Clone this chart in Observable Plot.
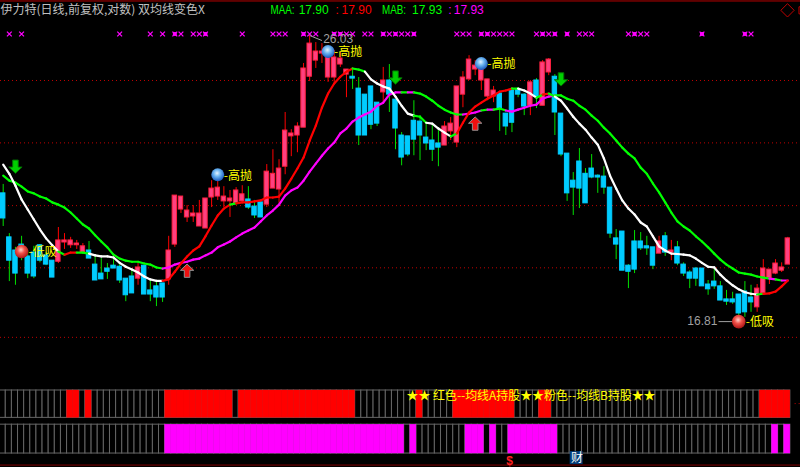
<!DOCTYPE html>
<html><head><meta charset="utf-8">
<script src="https://cdn.jsdelivr.net/npm/d3@7"></script>
<script src="https://cdn.jsdelivr.net/npm/@observablehq/plot@0.6"></script>
<style>html,body{margin:0;padding:0;background:#000;overflow:hidden}svg{display:block}</style>
</head><body><div id="c"></div>
<script>
const opens = [20.45,19.12,18.74,18.91,18.57,18.68,18.89,18.60,18.45,18.42,
18.97,18.89,18.89,18.68,18.74,18.34,18.09,18.23,18.31,18.28,
17.95,18.01,17.95,18.31,17.63,17.74,17.82,17.93,18.91,19.95,
19.71,19.74,19.44,19.38,20.32,20.35,20.20,20.20,20.14,20.20,
20.26,20.04,20.17,20.10,20.60,20.57,21.30,22.31,22.34,22.61,
24.44,25.05,25.32,24.41,24.41,24.90,24.52,24.44,24.00,23.78,
24.08,23.49,23.86,24.30,23.60,22.34,22.31,22.85,22.82,22.27,
22.17,22.07,22.00,22.48,22.10,23.78,24.34,24.71,24.30,23.71,
23.71,23.82,23.10,23.93,23.97,23.78,23.38,24.30,23.38,24.60,
24.44,23.10,21.73,20.85,21.47,21.07,21.24,21.01,20.98,20.63,
19.09,19.29,18.31,19.00,19.00,18.86,18.83,18.65,19.15,18.68,
18.83,18.34,18.12,18.23,18.23,17.79,17.87,17.74,17.39,17.39,
17.52,17.60,17.44,17.18,17.55,17.95,18.09,18.17,18.34];
const closes = [19.68,18.45,18.09,18.65,18.09,18.01,18.45,18.34,17.98,19.03,
19.03,19.03,18.94,18.86,18.51,17.90,17.93,18.14,18.23,17.90,
17.50,17.55,18.26,17.52,17.52,17.44,17.44,18.74,20.38,20.35,
19.92,19.83,19.83,20.29,20.60,20.63,20.35,20.29,20.54,20.42,
20.01,19.77,19.71,21.14,21.07,21.24,22.51,22.41,22.65,24.75,
25.71,25.40,25.40,25.32,25.17,25.13,24.71,24.37,22.34,22.34,
22.71,22.75,24.30,23.78,22.58,21.60,21.70,22.20,22.34,22.07,
21.86,21.93,22.65,22.75,24.08,24.41,25.09,24.86,24.75,24.34,
23.93,23.28,22.65,22.78,23.78,23.35,24.23,23.71,24.98,25.09,
23.14,21.70,20.45,20.63,20.60,20.14,20.95,20.95,20.63,19.23,
18.91,18.17,18.14,18.20,18.80,18.80,18.31,19.00,18.68,18.74,
18.37,18.09,17.95,17.95,17.74,17.66,17.74,17.36,17.33,17.31,
17.02,17.05,17.31,17.68,18.23,18.20,18.37,18.26,19.09];
const highs = [20.73,19.23,18.83,19.15,18.74,18.86,18.91,18.68,18.45,19.41,
19.23,19.12,19.03,18.94,19.00,18.60,18.51,18.37,18.54,18.39,
17.95,18.17,18.37,18.31,17.90,17.85,17.82,19.15,20.38,20.35,
20.07,20.07,20.23,20.29,20.85,20.85,20.66,20.54,20.63,20.69,
20.66,20.23,20.23,21.37,21.86,21.53,23.14,22.54,22.78,24.94,
26.03,25.75,25.71,25.44,25.44,25.36,24.71,24.75,24.41,23.78,
24.08,23.49,24.79,24.90,23.60,22.44,22.31,23.56,23.03,22.75,
22.75,22.51,22.82,22.96,24.08,24.63,25.24,25.05,25.05,24.34,
24.08,23.86,23.10,24.04,24.04,23.82,24.30,24.37,25.05,25.13,
24.52,23.10,21.73,21.11,21.90,21.24,21.70,21.04,21.30,20.63,
19.35,19.29,18.34,19.32,19.26,19.15,18.83,19.15,19.26,19.03,
19.00,18.39,18.17,18.26,18.23,17.90,18.23,17.87,17.63,17.58,
17.52,17.87,17.77,17.79,18.48,18.20,18.48,18.39,19.12];
const lows = [19.44,17.87,17.77,18.45,17.95,17.95,18.39,18.31,17.98,18.37,
18.77,18.80,18.77,18.65,18.51,17.90,17.93,17.93,18.23,17.82,
17.33,17.55,17.77,17.52,17.33,17.20,17.31,17.77,18.83,19.83,
19.56,19.56,19.44,19.38,20.01,20.23,20.01,19.71,20.14,20.14,
19.95,19.68,19.71,20.01,20.60,20.14,21.04,21.63,21.76,22.61,
24.26,24.75,24.94,24.23,24.23,24.79,23.67,23.97,22.00,22.34,
22.54,22.65,23.49,23.14,21.86,21.33,21.63,21.66,21.50,21.83,
21.47,21.30,22.00,22.17,21.93,23.31,24.30,24.48,23.93,23.56,
23.49,22.48,22.34,22.44,23.67,23.03,23.03,23.28,23.38,24.48,
22.34,21.63,20.20,19.77,19.98,20.14,20.91,20.45,20.42,19.09,
18.48,18.17,17.68,18.09,18.74,18.60,18.20,18.65,18.57,18.45,
18.31,18.01,17.68,17.74,17.74,17.50,17.66,17.36,17.23,17.26,
16.81,16.92,17.05,17.05,17.52,17.79,18.06,18.12,18.34];
const maFast = [21.37,21.07,20.69,20.26,19.95,19.65,19.35,19.09,18.89,18.71,
18.62,18.68,18.68,18.68,18.65,18.60,18.57,18.57,18.54,18.39,
18.28,18.20,18.12,18.01,17.93,17.89,17.89,17.93,18.14,18.37,
18.57,18.74,18.86,19.15,19.47,19.77,19.98,20.10,20.14,20.17,
20.17,20.20,20.23,20.32,20.32,20.35,20.60,20.91,21.24,21.60,
22.17,22.68,23.31,23.82,24.19,24.44,24.63,24.75,24.71,24.63,
24.34,24.19,24.08,24.00,23.71,23.38,23.10,23.03,22.99,22.78,
22.75,22.58,22.44,22.31,22.41,22.78,23.14,23.35,23.49,23.63,
23.75,23.89,23.93,24.00,24.00,23.93,23.82,23.67,23.78,23.82,
23.71,23.56,23.28,22.99,22.75,22.54,22.27,22.03,21.57,21.01,
20.60,20.23,19.98,19.80,19.56,19.44,19.15,18.86,18.74,18.65,
18.64,18.62,18.60,18.51,18.39,18.28,18.26,18.06,17.90,17.77,
17.66,17.58,17.54,17.52,17.54,17.55,17.60,17.74,17.90];
const maSlow = [21.01,20.85,20.79,20.66,20.51,20.45,20.35,20.29,20.17,20.10,
20.01,19.86,19.68,19.50,19.38,19.18,19.00,18.83,18.62,18.51,
18.45,18.42,18.42,18.37,18.34,18.26,18.23,18.26,18.34,18.39,
18.42,18.48,18.51,18.60,18.68,18.83,18.91,19.00,19.12,19.23,
19.32,19.41,19.59,19.77,19.92,20.10,20.38,20.54,20.63,20.85,
21.14,21.40,21.66,21.90,22.10,22.41,22.58,22.82,22.96,23.07,
23.17,23.38,23.49,23.78,23.86,23.86,23.86,23.86,23.82,23.71,
23.56,23.38,23.24,23.14,23.07,23.07,23.10,23.14,23.21,23.24,
23.24,23.28,23.21,23.17,23.24,23.31,23.38,23.42,23.63,23.71,
23.75,23.75,23.63,23.56,23.38,23.24,23.03,22.85,22.61,22.41,
22.17,21.93,21.73,21.57,21.27,21.07,20.76,20.48,20.17,19.86,
19.59,19.44,19.32,19.15,19.00,18.83,18.65,18.48,18.34,18.23,
18.12,18.09,18.06,18.01,17.98,17.95,17.93,17.90,17.90];
// bars where the fast line is drawn red or green (otherwise white)
const fastRed = [11,12,27,28,29,30,31,32,33,34,35,36,37,39,40,41,42,43,44,45,46,47,48,49,50,51,52,53,54,55,56,57,75,76,77,78,79,80,81,82,83,89,125,126,127,128];
const fastGreen = [10,13,14,38,58,59,68,69,74,84,88,90,124];
// bars held in the two strips
const holdA = [11,12,14,27,28,29,30,31,32,33,34,35,36,37,39,40,41,42,43,44,45,46,47,48,49,50,51,52,53,54,55,56,57,68,74,75,76,77,78,79,80,81,82,83,88,89,124,125,126,127,128];
const holdB = [27,28,29,30,31,32,33,34,35,36,37,38,39,40,41,42,43,44,45,46,47,48,49,50,51,52,53,54,55,56,57,58,59,60,61,62,63,64,65,67,76,77,78,80,83,84,85,86,87,88,89,90,126,128];
// magenta × row
const crossBars = [1,3,19,24,26,28,29,31,32,33,39,44,45,46,49,50,51,54,55,56,57,59,60,62,63,64,65,66,67,74,75,76,78,79,80,81,82,83,87,88,89,90,92,94,95,96,102,103,104,105,114,121,122];
const crossBig = [28,33,49,54,55,62,64,67,78,79,88,90,92,103,114,121];
const downArrows = [[2,21.30],[64,24.41],[91,24.34]];
const upArrows = [[30,18.17],[77,22.75]];
const blueBalls = [[35,21.04],[53,25.40],[78,24.94]];
const redBalls = [[3,18.71],[120,16.81]];
const gridPrices = [24.30,22.09,20.07,18.25,16.41];
const allBars = d3.range(129);
const candles = allBars.map(i => ({i, o:opens[i], c:closes[i], h:highs[i], l:lows[i], up:closes[i]>opens[i]}));
const segs = (vals, col) => allBars.slice(1).map(i => ({x1:i-1, x2:i, y1:vals[i-1], y2:vals[i], c:col(i)}));
const fastSegs = segs(maFast, i => fastRed.includes(i) ? "#ff0000" : fastGreen.includes(i) ? "#00ff00" : "#ffffff");
const slowSegs = segs(maSlow, i => holdB.includes(i) ? "#ff00ff" : "#00ff00");
const arrow = dir => ({draw(ctx, size){
  const s = Math.sqrt(size)/2, d = dir;
  ctx.moveTo(-s*.42, -d*s); ctx.lineTo(s*.42, -d*s); ctx.lineTo(s*.42, d*s*.05);
  ctx.lineTo(s, d*s*.05); ctx.lineTo(0, d*s); ctx.lineTo(-s, d*s*.05); ctx.lineTo(-s*.42, d*s*.05); ctx.closePath();
}});
const stripA = [15.13, 14.51], stripB = [14.36, 13.74];
const cellRects = (bars, s) => Plot.rect(bars, {x1:i=>i-.58, x2:i=>i+.42, y1:()=>s[0], y2:()=>s[1], fill:s===stripA?"#ff0000":"#ff00ff", stroke:s===stripA?"#ff0000":"#ff00ff", strokeWidth:.3});
const cellFrame = s => Plot.rect(allBars, {x1:i=>i-.58, x2:i=>i+.42, y1:()=>s[0], y2:()=>s[1], fill:"#000", stroke:"#666666", strokeWidth:1});
const CJK = "Noto Sans CJK SC", SANS = "Liberation Sans";
const label = (x, y, text, fill, o={}) => Plot.text([text], {x:()=>x, y:()=>y, text:d=>d, fill, textAnchor:"start", fontFamily:CJK, fontSize:12, ...o});
const svg = Plot.plot({
  width:800, height:467, margin:0,
  style:{background:"#000"},
  x:{type:"linear", domain:[0,128], range:[2.7,787.3], axis:null},
  y:{type:"log", domain:[27.46,13.45], range:[0,467], axis:null},
  marks:[
    Plot.ruleY(gridPrices, {stroke:"#c00000", strokeDasharray:"1 3", strokeWidth:1}),
    Plot.ruleY([27.44], {stroke:"#b80000", strokeWidth:1}),
    Plot.ruleY([13.50], {stroke:"#800000", strokeWidth:1}),
    Plot.ruleX(candles, {x:"i", y1:"l", y2:"h", stroke:d=>d.up?"#ff0000":"#00e000", strokeWidth:1}),
    Plot.rect(candles, {x1:d=>d.i-.36, x2:d=>d.i+.36, y1:"o", y2:"c", fill:d=>d.up?"#ff4080":"#00ccff", stroke:d=>d.up?"#ff2040":"#00ccff", strokeWidth:1}),
    Plot.link(slowSegs, {x1:"x1", x2:"x2", y1:"y1", y2:"y2", stroke:"c", strokeWidth:2.2, strokeLinecap:"round"}),
    Plot.link(fastSegs, {x1:"x1", x2:"x2", y1:"y1", y2:"y2", stroke:"c", strokeWidth:2.2, strokeLinecap:"round"}),
    Plot.dot(crossBars, {x:d=>d, y:()=>26.09, symbol:"times", r:2.3, stroke:"#ff00ff", strokeWidth:1.3}),
    Plot.dot(crossBig, {x:d=>d, y:()=>26.09, symbol:"square", r:2.2, fill:"#ff00ff"}),
    Plot.dot(downArrows, {x:"0", y:"1", symbol:arrow(1), r:7.5, fill:"#00d000", stroke:"#007000", strokeWidth:1}),
    Plot.dot(upArrows, {x:"0", y:"1", symbol:arrow(-1), r:7.5, fill:"#f01010", stroke:"#909090", strokeWidth:1}),
    Plot.link([[50,26.03,52,25.83]], {x1:"0", y1:"1", x2:"2", y2:"3", stroke:"#a0a0a0", strokeWidth:1}),
    Plot.link([[116.7,16.81,119.5,16.81]], {x1:"0", y1:"1", x2:"2", y2:"3", stroke:"#a0a0a0", strokeWidth:1}),
    Plot.dot(blueBalls, {x:"0", y:"1", r:6.5, fill:"url(#ballBlue)"}),
    Plot.dot(redBalls, {x:"0", y:"1", r:6.8, fill:"url(#ballRed)"}),
    ...blueBalls.map(b => label(b[0], b[1], "-高抛", "#ffff00", {dx:6, dy:1})),
    ...redBalls.map(b => label(b[0], b[1], "-低吸", "#ffff00", {dx:7, dy:1})),
    label(52.2, 25.87, "26.03", "#a0a0a0", {fontFamily:SANS}),
    label(116.5, 16.81, "16.81", "#a0a0a0", {fontFamily:SANS, textAnchor:"end"}),
    label(-0.44, 27.05, "伊力特(日线,前复权,对数) 双均线变色X", "#c0c0c0"),
    label(43.6, 27.05, "MAA:", "#00ff00", {fontFamily:SANS}),
    label(48.2, 27.05, "17.90", "#00ff00", {fontFamily:SANS}),
    label(54.2, 27.05, ":", "#ff0000", {fontFamily:SANS}),
    label(55.2, 27.05, "17.90", "#ff0000", {fontFamily:SANS}),
    label(61.8, 27.05, "MAB:", "#00ff00", {fontFamily:SANS}),
    label(66.7, 27.05, "17.93", "#00ff00", {fontFamily:SANS}),
    label(72.6, 27.05, ":", "#ff00ff", {fontFamily:SANS}),
    label(73.5, 27.05, "17.93", "#ff00ff", {fontFamily:SANS}),
    Plot.dot([[128,27.05]], {x:"0", y:"1", symbol:"diamond2", r:6, stroke:"#c00000", strokeWidth:1, dx:-0.3}),
    Plot.dot([[130.4,27.05]], {x:"0", y:"1", symbol:"square2", r:4.5, stroke:"#c00000", strokeWidth:1}),
    Plot.ruleY([14.83], {x1:129.2, x2:131, stroke:"#c00000", strokeDasharray:"1 3"}),
    cellFrame(stripA), cellRects(holdA, stripA),
    cellFrame(stripB), cellRects(holdB, stripB),
    label(65.8, 15.01, "★★ 红色--均线A持股★★粉色--均线B持股★★", "#ffff00"),
    Plot.text(["$"], {x:()=>82.6, y:()=>13.59, text:d=>d, fill:"#ff2020", fontFamily:SANS, fontSize:12, fontWeight:"bold"}),
    Plot.rect([0], {x1:()=>92.5, x2:()=>94.6, y1:()=>13.78, y2:()=>13.51, fill:"#003c78"}),
    Plot.text(["财"], {x:()=>93.6, y:()=>13.64, text:d=>d, fill:"#ffffff", fontFamily:CJK, fontSize:12})
  ]
});
d3.select(svg).selectAll("text").each(function(){
  const t = this.textContent;
  if (t === "MAA:" || t === "MAB:") this.setAttribute("textLength", 24);
  if (t.startsWith("★★")) this.setAttribute("textLength", 249);
  if (t === "MAA:" || t === "MAB:" || t.startsWith("★★")) this.setAttribute("lengthAdjust", "spacingAndGlyphs");
});
const defs = d3.select(svg).insert("defs", ":first-child");
const grad = (id, stops) => {
  const g = defs.append("radialGradient").attr("id", id).attr("cx","45%").attr("cy","38%").attr("r","60%");
  stops.forEach(([o,c]) => g.append("stop").attr("offset",o).attr("stop-color",c));
};
grad("ballBlue", [["0%","#e4f4ff"],["45%","#6ab4f0"],["100%","#1c5cc0"]]);
grad("ballRed", [["0%","#ffd0c8"],["45%","#f05048"],["100%","#b01818"]]);
document.getElementById("c").appendChild(svg);
</script></body></html>
